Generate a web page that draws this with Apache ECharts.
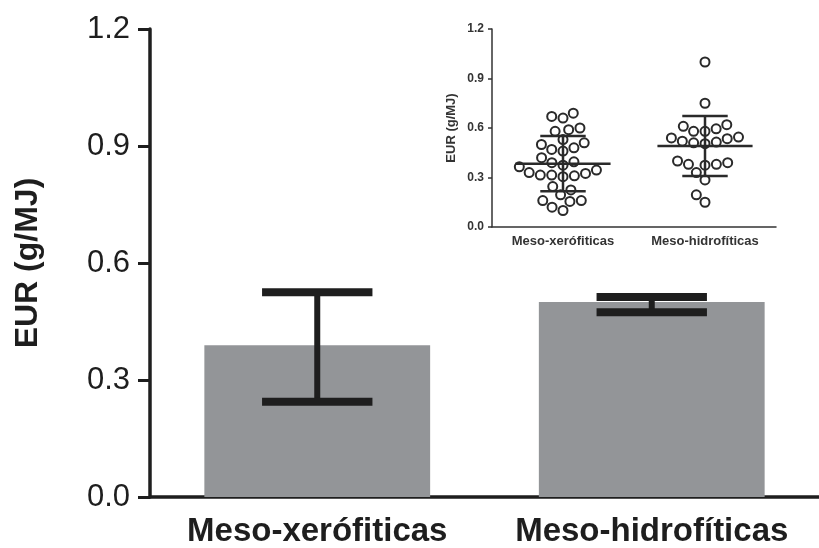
<!DOCTYPE html>
<html>
<head>
<meta charset="utf-8">
<style>
  html, body { margin: 0; padding: 0; background: #fff; }
  #chart { width: 819px; height: 548px; }
</style>
<script src="https://cdn.jsdelivr.net/npm/echarts@6/dist/echarts.min.js"></script>
</head>
<body>
<div id="chart"></div>
<script>
// Groups
const categories = ['Meso-xerófiticas', 'Meso-hidrofíticas'];

// Main panel: mean EUR per group and error bar limits (g/MJ)
const barMeans = [0.389, 0.50];
const errLow = [0.244, 0.474];
const errHigh = [0.525, 0.513];

// Inset: individual EUR observations per group (g/MJ)
const xeroValues = [0.69, 0.66, 0.67, 0.59, 0.58, 0.60, 0.51, 0.53, 0.48, 0.46, 0.47, 0.50,
  0.42, 0.39, 0.375, 0.395, 0.365, 0.345, 0.325, 0.315, 0.305, 0.31, 0.315, 0.33,
  0.225, 0.245, 0.195, 0.16, 0.155, 0.16, 0.10, 0.12];
const hidroValues = [1.00, 0.75, 0.62, 0.595, 0.58, 0.58, 0.61, 0.54, 0.52, 0.505, 0.51, 0.515,
  0.535, 0.545, 0.40, 0.38, 0.375, 0.38, 0.39, 0.33, 0.285, 0.195, 0.15];

// Shared value axis range
const yMin = 0, yMax = 1.2, yStep = 0.3;

const FONT = '"Liberation Sans", Arial, Helvetica, sans-serif';
const INK = '#1e1e1e';
const groups = [xeroValues, hidroValues];

function mean(a) { return a.reduce((s, v) => s + v, 0) / a.length; }
function sd(a) {
  const m = mean(a);
  return Math.sqrt(a.reduce((s, v) => s + (v - m) * (v - m), 0) / (a.length - 1));
}

// Beeswarm: push each dot sideways just enough to avoid overlapping dots already placed
function swarmOffsets(ys, diam) {
  const order = ys.map((y, i) => i).sort((a, b) => ys[b] - ys[a]);
  const placed = [];
  const xs = new Array(ys.length).fill(0);
  for (const i of order) {
    const y = ys[i];
    const cands = [0];
    for (const p of placed) {
      const dy = Math.abs(p.y - y);
      if (dy < diam) {
        const dx = Math.sqrt(diam * diam - dy * dy) + 0.01;
        cands.push(p.x + dx, p.x - dx);
      }
    }
    cands.sort((a, b) => Math.abs(a) - Math.abs(b) || a - b);
    let x = 0;
    for (const c of cands) {
      if (placed.every(p => (p.x - c) * (p.x - c) + (p.y - y) * (p.y - y) >= diam * diam - 0.05)) { x = c; break; }
    }
    placed.push({ x, y });
    xs[i] = x;
  }
  return xs;
}

const swarmCache = {};

const chart = echarts.init(document.getElementById('chart'), null, { renderer: 'canvas' });

const yLabelFmt = v => v.toFixed(1);

const option = {
  backgroundColor: '#fff',
  animation: false,
  textStyle: { fontFamily: FONT },
  grid: [
    { left: 150, right: -4, top: 29, bottom: 51 },
    { left: 492, top: 29, width: 284, height: 198 }
  ],
  xAxis: [
    {
      gridIndex: 0, type: 'category', data: categories,
      axisLine: { lineStyle: { color: INK, width: 3.5 } },
      axisTick: { alignWithLabel: true, length: 10, lineStyle: { color: INK, width: 3 } },
      axisLabel: { interval: 0, fontSize: 33, fontWeight: 'bold', color: INK, margin: 18, fontFamily: FONT },
      splitLine: { show: false }
    },
    {
      gridIndex: 1, type: 'category', data: categories,
      axisLine: { lineStyle: { color: '#333', width: 1.5 } },
      axisTick: { alignWithLabel: true, length: 4, lineStyle: { color: '#333', width: 1.5 } },
      axisLabel: { interval: 0, fontSize: 13, fontWeight: 'bold', color: '#333', margin: 8, fontFamily: FONT },
      splitLine: { show: false }
    }
  ],
  yAxis: [
    {
      gridIndex: 0, type: 'value', min: yMin, max: yMax, interval: yStep,
      name: 'EUR (g/MJ)', nameLocation: 'middle', nameRotate: 90, nameGap: 106,
      nameTextStyle: { fontSize: 32, fontWeight: 'bold', color: INK, fontFamily: FONT },
      axisLine: { show: true, lineStyle: { color: INK, width: 3.5 } },
      axisTick: { show: true, length: 12, lineStyle: { color: INK, width: 3 } },
      axisLabel: { fontSize: 31, color: INK, margin: 20, formatter: yLabelFmt, fontFamily: FONT },
      splitLine: { show: false }
    },
    {
      gridIndex: 1, type: 'value', min: yMin, max: yMax, interval: yStep,
      name: 'EUR (g/MJ)', nameLocation: 'middle', nameRotate: 90, nameGap: 34,
      nameTextStyle: { fontSize: 13, fontWeight: 'bold', color: '#333', fontFamily: FONT },
      axisLine: { show: true, lineStyle: { color: '#333', width: 1.5 } },
      axisTick: { show: true, length: 4, lineStyle: { color: '#333', width: 1.5 } },
      axisLabel: { fontSize: 12, fontWeight: 'bold', color: '#333', margin: 8, formatter: yLabelFmt, fontFamily: FONT },
      splitLine: { show: false }
    }
  ],
  series: [
    // Mean bars
    {
      type: 'bar', xAxisIndex: 0, yAxisIndex: 0,
      data: barMeans, barWidth: '67.5%',
      itemStyle: { color: '#939598' }, z: 2
    },
    // Error bars on the main panel
    {
      type: 'custom', xAxisIndex: 0, yAxisIndex: 0, z: 3,
      data: categories.map((c, i) => [i, errLow[i], errHigh[i]]),
      renderItem: (params, api) => {
        const i = api.value(0);
        const lo = api.coord([i, api.value(1)]);
        const hi = api.coord([i, api.value(2)]);
        const hw = api.size([1, 0])[0] * 0.165;
        const st = { stroke: INK, lineWidth: 6 };
        const cap = { stroke: INK, lineWidth: 8 };
        return {
          type: 'group',
          children: [
            { type: 'line', shape: { x1: lo[0], y1: lo[1], x2: hi[0], y2: hi[1] }, style: st },
            { type: 'line', shape: { x1: hi[0] - hw, y1: hi[1], x2: hi[0] + hw, y2: hi[1] }, style: cap },
            { type: 'line', shape: { x1: lo[0] - hw, y1: lo[1], x2: lo[0] + hw, y2: lo[1] }, style: cap }
          ]
        };
      }
    },
    // Inset dot plots, one series per group
    ...groups.map((vals, g) => ({
      type: 'custom', xAxisIndex: 1, yAxisIndex: 1, z: 4,
      data: vals.map(v => [g, v]),
      renderItem: (params, api) => {
        if (!swarmCache[g]) {
          const ys = vals.map(v => api.coord([g, v])[1]);
          swarmCache[g] = swarmOffsets(ys, 11.4);
        }
        const p = api.coord([g, api.value(1)]);
        return {
          type: 'circle',
          shape: { cx: p[0] + swarmCache[g][params.dataIndex], cy: p[1], r: 4.5 },
          style: { fill: '#fff', stroke: '#2a2a2a', lineWidth: 2 }
        };
      }
    })),
    // Inset mean and SD lines
    {
      type: 'custom', xAxisIndex: 1, yAxisIndex: 1, z: 5,
      data: groups.map((vals, g) => [g, mean(vals), sd(vals)]),
      renderItem: (params, api) => {
        const g = api.value(0), m = api.value(1), s = api.value(2);
        const band = api.size([1, 0])[0];
        const pm = api.coord([g, m]);
        const ph = api.coord([g, m + s]);
        const pl = api.coord([g, m - s]);
        const mw = band * 0.335, cw = band * 0.16;
        const st = { stroke: '#2a2a2a', lineWidth: 2.5 };
        return {
          type: 'group',
          children: [
            { type: 'line', shape: { x1: pm[0] - mw, y1: pm[1], x2: pm[0] + mw, y2: pm[1] }, style: st },
            { type: 'line', shape: { x1: pl[0], y1: pl[1], x2: ph[0], y2: ph[1] }, style: st },
            { type: 'line', shape: { x1: ph[0] - cw, y1: ph[1], x2: ph[0] + cw, y2: ph[1] }, style: st },
            { type: 'line', shape: { x1: pl[0] - cw, y1: pl[1], x2: pl[0] + cw, y2: pl[1] }, style: st }
          ]
        };
      }
    }
  ]
};

chart.setOption(option);
</script>
</body>
</html>
